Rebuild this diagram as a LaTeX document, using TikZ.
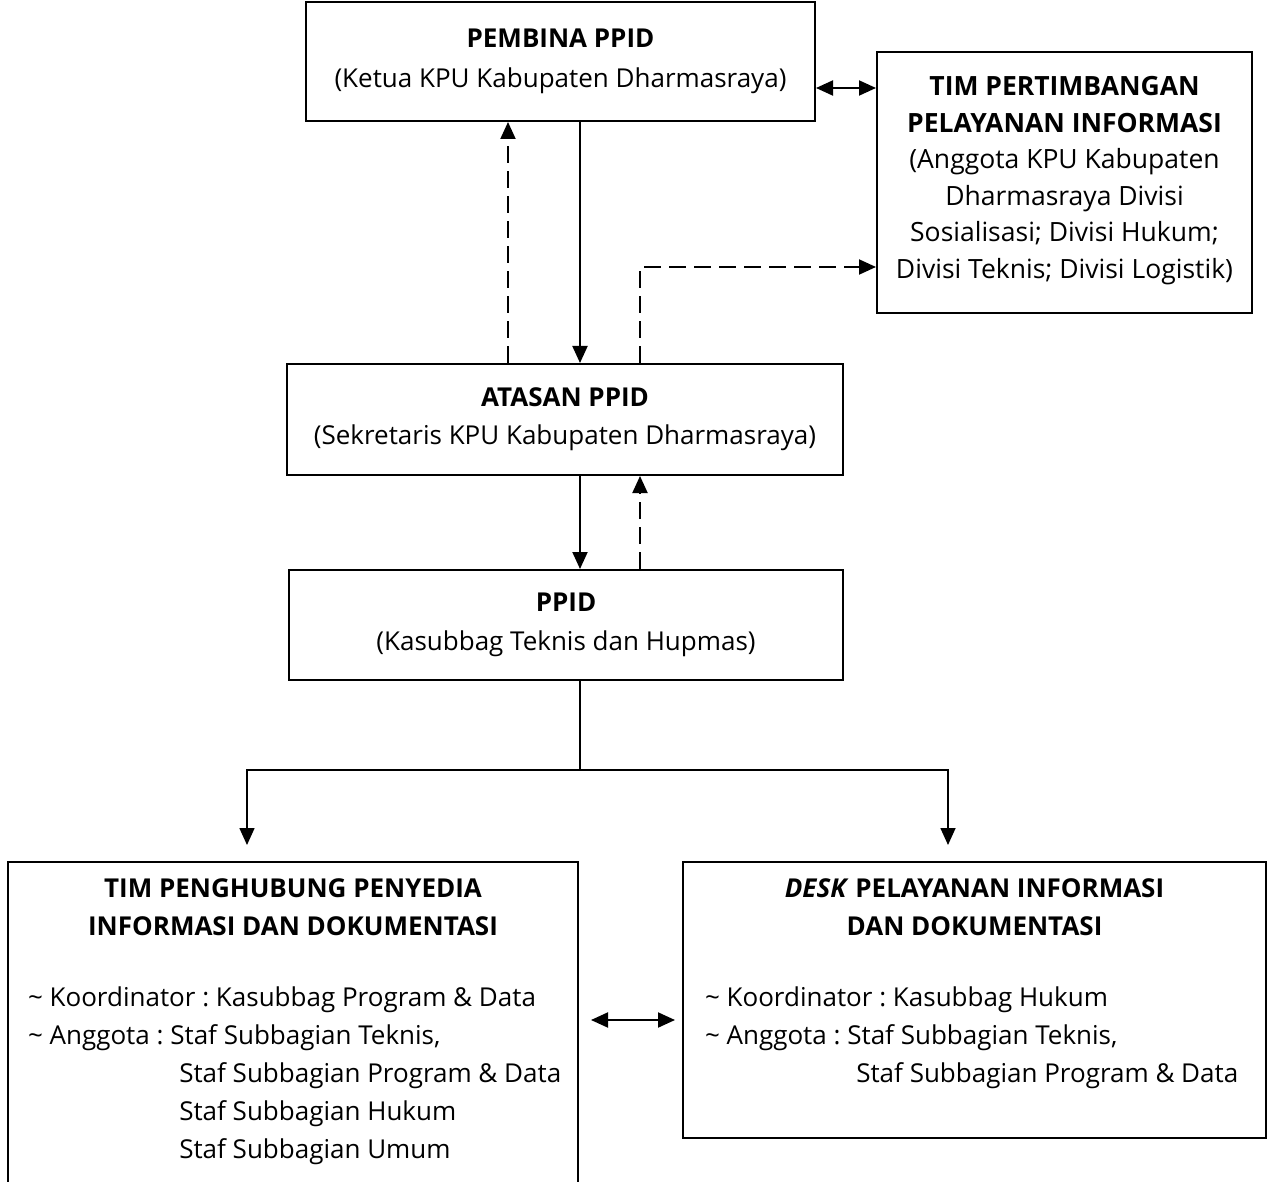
\documentclass[tikz,border=0pt]{standalone}
\usepackage{fontspec}
\setmainfont{Open Sans}
\usetikzlibrary{arrows.meta, positioning}

\begin{document}
\begin{tikzpicture}[x=1pt, y=-1pt, >={Triangle[length=17pt, width=15pt]},
  box/.style ={draw=black, line width=2pt, align=center, inner sep=0pt,
    font=\fontsize{26}{38}\selectfont\frenchspacing},
  %
  list/.style ={align=left, inner sep=0pt,
    font=\fontsize{26}{38}\selectfont\frenchspacing},
  %
  dashflow/.style ={->, dash pattern=on 17pt off 8pt} ]

  \tikzset{every path/.style={line width=2pt}}
  \useasboundingbox (0,0) rectangle (1272,1182);

  \begin{scope}
    %%%%%%%%%%%%%%%%%%%%%%%%%%%%%%%
    \node [box, minimum width=509pt, minimum height=119pt] (pembina) at (560.5,61.5)
    {\textbf{PEMBINA PPID}\\[2pt](Ketua KPU Kabupaten Dharmasraya)};
    \node [box, minimum width=375pt, minimum height=261pt,
      font=\fontsize{26.5}{36.5}\selectfont] (tim) at (1064.5,182.5)
    {\textbf{TIM PERTIMBANGAN}\\\textbf{PELAYANAN INFORMASI}\\(Anggota KPU Kabupaten\\
      Dharmasraya Divisi\\Sosialisasi; Divisi Hukum;\\Divisi Teknis; Divisi Logistik)\\[-26pt]};
    %%%%%%%%%%%%%%%%%%%%%%%%%%%%%%%
    \node [box, minimum width=556pt, minimum height=111pt] (atasan) at (565,419.5)
    {\textbf{ATASAN PPID}\\(Sekretaris KPU Kabupaten Dharmasraya)};
    \node [box, minimum width=554pt, minimum height=110pt] (ppid) at (566,625)
    {\textbf{PPID}\\[1pt](Kasubbag Teknis dan Hupmas)};
    %%%%%%%%%%%%%%%%%%%%%%%%%%%%%%%
    \node [box, minimum width=570pt, minimum height=340pt] (penghubung) at (293,1032) {};
    \node [box, draw=none, below=17pt of penghubung.north] (penghubungjudul)
    {\textbf{TIM PENGHUBUNG PENYEDIA}\\\textbf{INFORMASI DAN DOKUMENTASI}};
    \node [list, anchor=north west] (penghubungisi)
    at ([shift={(20pt,-125pt)}]penghubung.north west)
    {\textasciitilde{} Koordinator : Kasubbag Program \& Data\\
      \textasciitilde{} Anggota : Staf Subbagian Teknis,\\
      \phantom{\textasciitilde{} Anggota : }\hspace*{9pt}Staf Subbagian Program \& Data\\
      \phantom{\textasciitilde{} Anggota : }\hspace*{9pt}Staf Subbagian Hukum\\
      \phantom{\textasciitilde{} Anggota : }\hspace*{9pt}Staf Subbagian Umum};
    %%%%%%%%%%%%%%%%%%%%%%%%%%%%%%%
    \node [box, minimum width=583pt, minimum height=276pt] (desk) at (974.5,1000) {};
    \node [box, draw=none, below=17pt of desk.north] (deskjudul)
    {\textbf{\textit{DESK} PELAYANAN INFORMASI}\\\textbf{DAN DOKUMENTASI}};
    \node [list, anchor=north west] (deskisi)
    at ([shift={(22pt,-125pt)}]desk.north west)
    {\textasciitilde{} Koordinator : Kasubbag Hukum\\
      \textasciitilde{} Anggota : Staf Subbagian Teknis,\\
      \phantom{\textasciitilde{} Anggota : }\hspace*{9pt}Staf Subbagian Program \& Data};
  \end{scope}

  \begin{scope}
    \coordinate (turun) at (580,0);
    \coordinate (naik) at (508,0);
    \coordinate (belok) at (640,267);
    \coordinate (cabang) at (580,770);
    \coordinate (kiri) at (247,0);
    \coordinate (kanan) at (948,0);

    \draw [<->] (pembina.east |- 0,88) -- (tim.west |- 0,88);
    \draw [->] (pembina.south -| turun) -- (atasan.north -| turun);
    \draw [dashflow] (atasan.north -| naik) -- (pembina.south -| naik);
    \draw [dashflow] (atasan.north -| belok) -- (belok) -- (belok -| tim.west);
    \draw [->] (atasan.south -| turun) -- (ppid.north -| turun);
    \draw [dashflow] (ppid.north -| belok) -- (atasan.south -| belok);
    \draw [->, line width=1.6pt] (ppid.south -| cabang) -- (cabang)
      -| ([yshift=16pt]penghubung.north -| kiri);
    \draw [->, line width=1.6pt] (cabang) -| ([yshift=16pt]desk.north -| kanan);
    \draw [<->, shorten <=12pt, shorten >=7pt] (penghubung.east |- 0,1020)
      -- (desk.west |- 0,1020);
  \end{scope}

\end{tikzpicture}
\end{document}
